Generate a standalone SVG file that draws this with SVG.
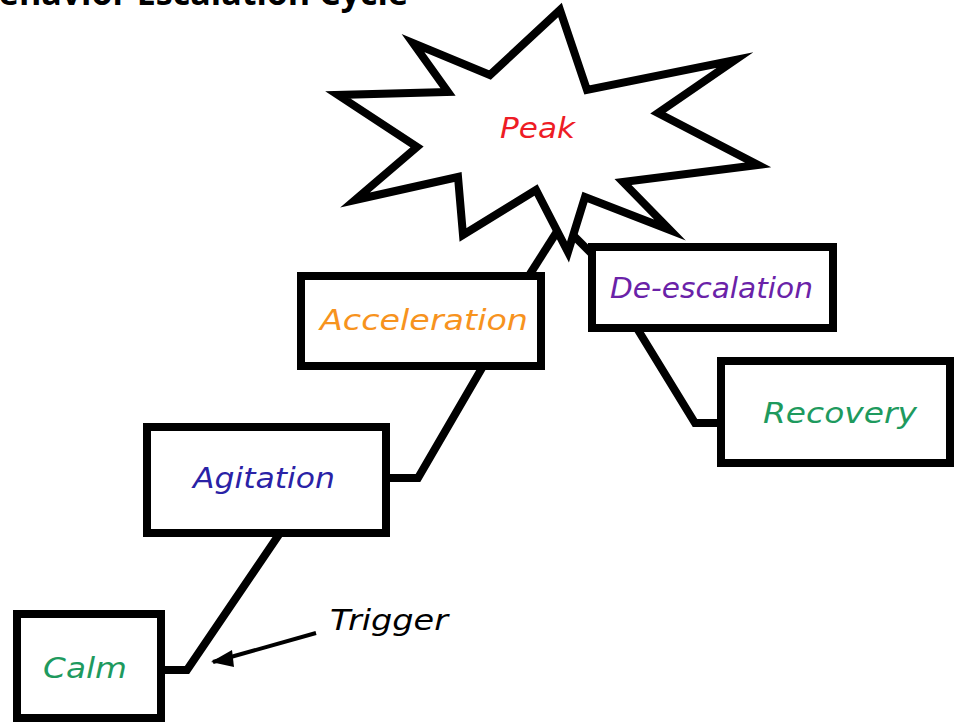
<svg xmlns="http://www.w3.org/2000/svg" width="955" height="722" viewBox="0 0 955 722">
  <defs>
    <style>
      .box { fill: #ffffff; stroke: #000000; stroke-width: 8; }
      .star { fill: #ffffff; stroke: #000000; stroke-width: 8; stroke-linejoin: miter; stroke-miterlimit: 10; }
      .link { fill: none; stroke: #000000; stroke-width: 8; stroke-linejoin: miter; }
      .label { font-family: "DejaVu Sans", "Noto Sans", sans-serif; font-style: oblique; font-size: 29px; }
      .title { font-family: "Open Sans", "Liberation Sans", sans-serif; font-weight: bold; font-size: 34px; fill: #000000; }
    </style>
    <marker id="arrowhead" markerWidth="10" markerHeight="10" refX="9" refY="5" orient="auto" markerUnits="userSpaceOnUse" viewBox="0 0 10 10">
      <path d="M0,0 L10,5 L0,10 Z" fill="#000000"/>
    </marker>
  </defs>

  <rect width="955" height="722" fill="#ffffff"/>

  <!-- heading, clipped by the top edge -->
  <text class="title" x="408" y="5" text-anchor="end">Behavior Escalation Cycle</text>

  <!-- connectors between stages -->
  <g id="connectors">
    <polyline class="link" points="161,670 187,670 280,533"/>
    <polyline class="link" points="386,478 418,478 482,368"/>
    <polyline class="link" points="530,274 558,230"/>
    <polyline class="link" points="574,236 594,256"/>
    <polyline class="link" points="638,330 695,423 721,423"/>
    <line x1="316" y1="633" x2="213" y2="662" stroke="#000000" stroke-width="4"/>
    <path d="M211,662 L232,650 L234,667 Z" fill="#000000"/>
  </g>

  <g id="peak">
    <polygon class="star" points="560,10 587,90 735,60 658,113 758,165 623,182 670,230 585,197 568,252 536,190 463,235 458,177 355,200 417,147 338,95 448,92 413,43 490,75"/>
    <text class="label" x="500" y="138" fill="#ee1c25" textLength="75" lengthAdjust="spacingAndGlyphs">Peak</text>
  </g>

  <g id="acceleration">
    <rect class="box" x="301" y="276" width="240" height="90"/>
    <text class="label" x="320" y="330" fill="#f7931e" textLength="208" lengthAdjust="spacingAndGlyphs">Acceleration</text>
  </g>

  <g id="agitation">
    <rect class="box" x="147" y="427" width="239" height="106"/>
    <text class="label" x="193" y="488" fill="#2a22a6" textLength="142" lengthAdjust="spacingAndGlyphs">Agitation</text>
  </g>

  <g id="calm">
    <rect class="box" x="17" y="614" width="144" height="104"/>
    <text class="label" x="43" y="678" fill="#1e9a5e" textLength="84" lengthAdjust="spacingAndGlyphs">Calm</text>
  </g>

  <g id="de-escalation">
    <rect class="box" x="592" y="247" width="241" height="81"/>
    <text class="label" x="610" y="298" fill="#6a22a8" textLength="203" lengthAdjust="spacingAndGlyphs">De-escalation</text>
  </g>

  <g id="recovery">
    <rect class="box" x="721" y="361" width="229" height="102"/>
    <text class="label" x="763" y="423" fill="#1e9a5e" textLength="154" lengthAdjust="spacingAndGlyphs">Recovery</text>
  </g>

  <g id="trigger">
    <text class="label" x="330" y="630" fill="#000000" textLength="118" lengthAdjust="spacingAndGlyphs">Trigger</text>
  </g>
</svg>
